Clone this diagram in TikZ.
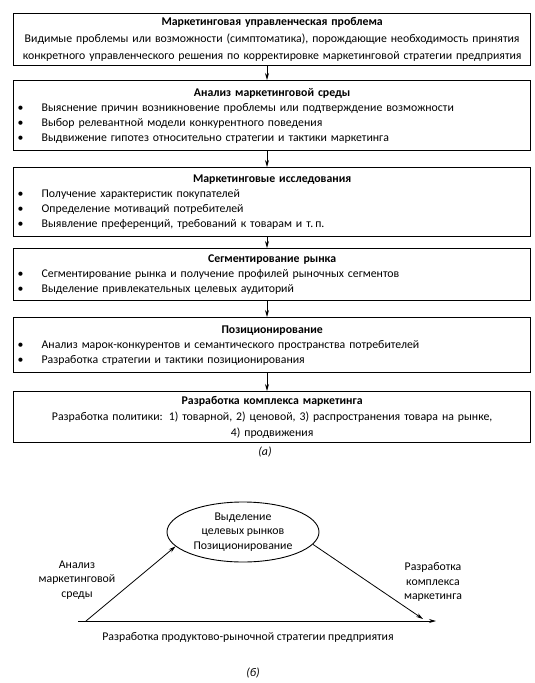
\documentclass[tikz,border=0pt]{standalone}
\usepackage{fontspec}
\setmainfont{Carlito}
\usetikzlibrary{arrows.meta,shapes.geometric}
\newcommand{\bitem}[1]{\par\noindent\makebox[25pt][l]{\hspace{1pt}•}#1}
\tikzset{
  blk/.style={draw, line width=1.3pt, anchor=north west, minimum width=517pt, text width=511pt, inner xsep=3pt, inner ysep=2pt, align=left, font=\fontsize{11.8}{15}\selectfont},
  flow/.style={-{Stealth[length=7pt,width=4pt]}, line width=0.8pt},
  lbl/.style={align=center, font=\fontsize{11.8}{14.5}\selectfont},
}
\begin{document}
\begin{tikzpicture}[x=1pt,y=-1pt]
\useasboundingbox (0,0) rectangle (535,683);
\node[blk, minimum height=52pt, align=center, font=\fontsize{11.8}{17}\selectfont] (b1) at (13,13)
  {\textbf{Маркетинговая управленческая проблема}\\
   Видимые проблемы или возможности (симптоматика), порождающие необходимость принятия\\
   конкретного управленческого решения по корректировке маркетинговой стратегии предприятия};
\node[blk, minimum height=70pt] (b2) at (13,80)
  {\centering\textbf{Анализ маркетинговой среды}\par\raggedright
   \bitem{Выяснение причин возникновение проблемы или подтверждение возможности}
   \bitem{Выбор релевантной модели конкурентного поведения}
   \bitem{Выдвижение гипотез относительно стратегии и тактики маркетинга}};
\node[blk, minimum height=69pt] (b3) at (13,167)
  {\centering\textbf{Маркетинговые исследования}\par\raggedright
   \bitem{Получение характеристик покупателей}
   \bitem{Определение мотиваций потребителей}
   \bitem{Выявление преференций, требований к товарам и т.\,п.}};
\node[blk, minimum height=52pt] (b4) at (13,248)
  {\centering\textbf{Сегментирование рынка}\par\raggedright
   \bitem{Сегментирование рынка и получение профилей рыночных сегментов}
   \bitem{Выделение привлекательных целевых аудиторий}};
\node[blk, minimum height=55pt] (b5) at (13,317)
  {\centering\textbf{Позиционирование}\par\raggedright
   \bitem{Анализ марок-конкурентов и семантического пространства потребителей}
   \bitem{Разработка стратегии и тактики позиционирования}};
\node[blk, minimum height=51pt, align=center, font=\fontsize{11.8}{16}\selectfont] (b6) at (13,391)
  {\textbf{Разработка комплекса маркетинга}\\
   Разработка политики: 1) товарной, 2) ценовой, 3) распространения товара на рынке,\\
   4) продвижения};
\foreach \a/\b in {b1/b2,b2/b3,b3/b4,b4/b5,b5/b6}
  \draw[flow] (\a.south -| 267,0) -- (\b.north -| 267,0);
\node[lbl] (la) at (265,452) {\textit{(а)}};

% part (b)
\node[draw, ellipse, line width=0.9pt, minimum width=152pt, minimum height=60pt, inner sep=1pt, lbl] (ell) at (243,532)
  {Выделение\\целевых рынков\\Позиционирование};
\coordinate (p0) at (78,621);
\coordinate (p1) at (86,621);
\coordinate (p2) at (436,621);
\coordinate (p3) at (423,619);
\draw[flow] (p0) -- (p2);
\draw[flow] (p1) -- (ell.192);
\draw[flow] (ell.-10) -- (p3);
\node[lbl] (lt) at (77,580) {Анализ\\маркетинговой\\среды};
\node[lbl] (rt) at (433,582) {Разработка\\комплекса\\маркетинга};
\node[lbl] (bt) at (248,637) {Разработка продуктово-рыночной стратегии предприятия};
\node[lbl] (lb) at (253,673) {\textit{(б)}};
\end{tikzpicture}
\end{document}
